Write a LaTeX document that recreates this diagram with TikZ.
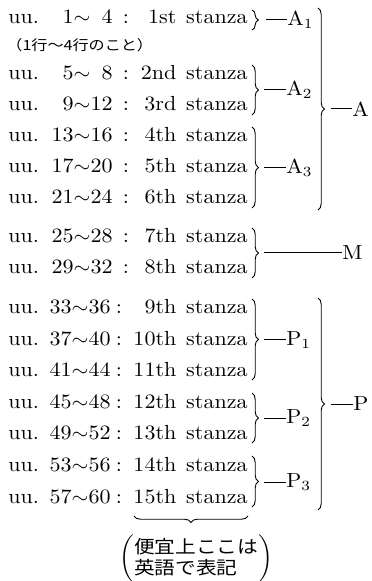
\documentclass[tikz,border=0pt]{standalone}
\usepackage{fontspec}
\newfontfamily\jpfont{Noto Sans CJK JP}[FakeStretch=1.15]
\usetikzlibrary{decorations.pathreplacing}
\begin{document}
\begin{tikzpicture}[x=0.5pt,y=-0.5pt,
  every node/.style={inner sep=0pt},
  txt/.style={font=\fontsize{10.2}{12}\selectfont, xscale=1.08},
  lbl/.style={txt, anchor=west},
  brc/.style={decorate, decoration={brace, amplitude=3.2pt}, line width=0.45pt},
  tie/.style={line width=0.5pt}]
\useasboundingbox (0,0) rectangle (371,581);

% verse ranges and stanza numbers
\foreach \n/\yb/\rng/\cx/\rx/\stz in {
  1/24/{\phantom{0}1$\sim$\phantom{0}4}/126/113/1st,
  2/80/{\phantom{0}5$\sim$\phantom{0}8}/126/113/2nd,
  3/111/{\phantom{0}9$\sim$12}/126/113/3rd,
  4/142/{13$\sim$16}/126/113/4th,
  5/173/{17$\sim$20}/126/113/5th,
  6/204/{21$\sim$24}/126/113/6th,
  7/243/{25$\sim$28}/126/113/7th,
  8/274/{29$\sim$32}/126/113/8th,
  9/314/{33$\sim$36}/119/111/9th,
  10/345/{37$\sim$40}/119/111/10th,
  11/376/{41$\sim$44}/119/111/11th,
  12/408/{45$\sim$48}/119/111/12th,
  13/439/{49$\sim$52}/119/111/13th,
  14/471/{53$\sim$56}/119/111/14th,
  15/503/{57$\sim$60}/119/111/15th}
{
  \node[txt, anchor=base west] (u\n) at (8,\yb) {uu.};
  \node[txt, anchor=base east] (r\n) at (\rx,\yb) {\rng};
  \node[txt, anchor=base] (c\n) at (\cx,\yb) {:};
  \node[txt, anchor=base east] (s\n) at (248,\yb) {\stz\hspace{0.45em}stanza};
}

% note under the first line
\node[anchor=base west, font=\jpfont\fontsize{7}{8}\selectfont] (note) at (6,51) {（1行〜4行のこと）};

% first-level braces
\coordinate (a1t) at (252,10);  \coordinate (a1b) at (252,30);
\coordinate (a2t) at (252,65);  \coordinate (a2b) at (252,115);
\coordinate (a3t) at (252,127); \coordinate (a3b) at (252,208);
\coordinate (mt)  at (252,228); \coordinate (mb)  at (252,278);
\coordinate (p1t) at (252,299); \coordinate (p1b) at (252,380);
\coordinate (p2t) at (252,393); \coordinate (p2b) at (252,443);
\coordinate (p3t) at (252,456); \coordinate (p3b) at (252,507);
\foreach \g in {a1,a2,a3,m,p1,p2,p3} \draw[brc] (\g t) -- (\g b);

% second-level braces
\coordinate (at) at (318,8);   \coordinate (ab) at (318,210);
\coordinate (pt) at (318,298); \coordinate (pb) at (318,510);
\draw[brc] (at) -- (ab);
\draw[brc] (pt) -- (pb);

% labels and their dashes
\node[lbl] (A1) at (287,20)  {$\mathrm{A}_1$};
\node[lbl] (A2) at (286,90)  {$\mathrm{A}_2$};
\node[lbl] (A3) at (286,168) {$\mathrm{A}_3$};
\node[lbl] (M)  at (342,253) {M};
\node[lbl] (P1) at (286,340) {$\mathrm{P}_1$};
\node[lbl] (P2) at (286,418) {$\mathrm{P}_2$};
\node[lbl] (P3) at (286,482) {$\mathrm{P}_3$};
\node[lbl] (A)  at (352,109) {A};
\node[lbl] (P)  at (353,404) {P};

\coordinate (dA1) at (266,20);
\coordinate (dA2) at (264,90);
\coordinate (dA3) at (264,168);
\coordinate (dM)  at (264,253);
\coordinate (dP1) at (264,340);
\coordinate (dP2) at (264,418);
\coordinate (dP3) at (264,482);
\coordinate (dA)  at (331,109);
\coordinate (dP)  at (331,404);
\foreach \k in {A1,A2,A3,M,P1,P2,P3,A,P} \draw[tie] (d\k) -- (\k.west);

% underbrace below the stanza column and its remark
\coordinate (ur) at (248,516); \coordinate (ul) at (134,516);
\draw[brc] (ur) -- (ul);
\node[anchor=west, font=\jpfont\fontsize{9}{9.5}\selectfont] (remark) at (119,559)
  {$\left(\begin{tabular}{@{}l@{}}便宜上ここは\\英語で表記\end{tabular}\right)$};
\end{tikzpicture}
\end{document}
